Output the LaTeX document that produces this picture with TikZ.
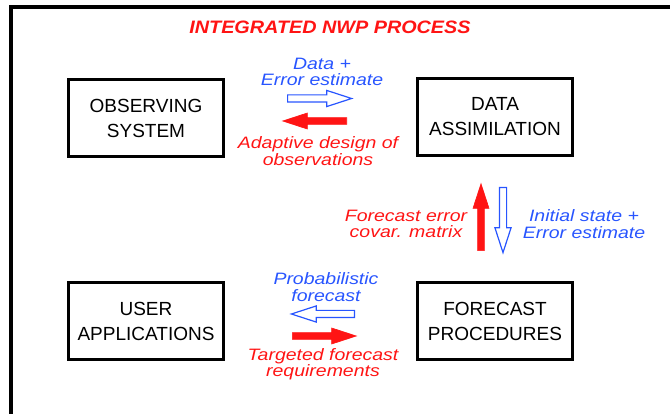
\documentclass[tikz,border=0pt]{standalone}
\usepackage{fontspec}
\usepackage{tikz}
\usetikzlibrary{positioning}
\usetikzlibrary{shapes.arrows}
\setmainfont{Liberation Sans}
\newfontfamily\labelfont{Liberation Sans}[FakeStretch=1.18]
\newfontfamily\titlefont{Liberation Sans}[FakeStretch=1.1]
\definecolor{nwpblue}{RGB}{40,85,255}
\definecolor{nwpred}{RGB}{255,20,20}
\tikzset{box/.style = {draw, line width=2.2pt, minimum width=155pt, minimum height=77pt,
                       align=center, font=\fontsize{19}{25}\selectfont}}
\tikzset{lbl/.style = {align=center, inner sep=0pt,
                       font=\labelfont\itshape\fontsize{16.5}{16.5}\selectfont}}
\tikzset{fatarrow/.style = {single arrow, anchor=tail, inner xsep=0pt, inner ysep=3pt,
                            minimum width=16pt, single arrow head extend=4.5pt,
                            single arrow tip angle=36}}
\tikzset{redarrow/.style = {fatarrow, fill=nwpred, draw=nwpred, line width=0.6pt}}
\tikzset{bluearrow/.style = {fatarrow, fill=white, draw=nwpblue, line width=1.2pt}}

\begin{document}
\begin{tikzpicture}[x=1pt, y=-1pt]
    \useasboundingbox (0,0) rectangle (670,414);
    % Frame
    \draw[line width=4pt] (11,416) -- (11,7) -- (672,7);
    \node (title) [nwpred, font=\titlefont\bfseries\itshape\fontsize{18}{20}\selectfont]
        at (330,27) {INTEGRATED NWP PROCESS};

    % Draw boxes
    \node (obs) [box] at (146,118) {OBSERVING\\SYSTEM};
    \node (assim) [box] at (495,117) {DATA\\ASSIMILATION};
    \node (user) [box] at (146,321) {USER\\APPLICATIONS};
    \node (fcst) [box] at (495,321) {FORECAST\\PROCEDURES};

    % Top pair (placed at their tails)
    \node (dataArr) [bluearrow, minimum height=64pt] at (287,98.5) {};
    \node (designArr) [redarrow, minimum height=64pt, rotate=180] at (347,121) {};
    \node (dataLbl) [lbl, nwpblue] at (322,72) {Data +\\Error estimate};
    \node (designLbl) [lbl, nwpred] at (318,151) {Adaptive design of\\observations};

    % Right pair
    \node (covArr) [redarrow, minimum height=67pt, rotate=90] at (481,251) {};
    \node (initArr) [bluearrow, minimum height=65pt, rotate=270] at (503,187) {};
    \node (covLbl) [lbl, nwpred] at (406,224) {Forecast error\\covar. matrix};
    \node (initLbl) [lbl, nwpblue] at (584,224) {Initial state +\\Error estimate};

    % Bottom pair
    \node (probArr) [bluearrow, minimum height=63pt, rotate=180] at (355,314) {};
    \node (reqArr) [redarrow, minimum height=64pt] at (292,336) {};
    \node (probLbl) [lbl, nwpblue] at (326,287) {Probabilistic\\forecast};
    \node (reqLbl) [lbl, nwpred] at (323,364) {Targeted forecast\\requirements};
\end{tikzpicture}
\end{document}
